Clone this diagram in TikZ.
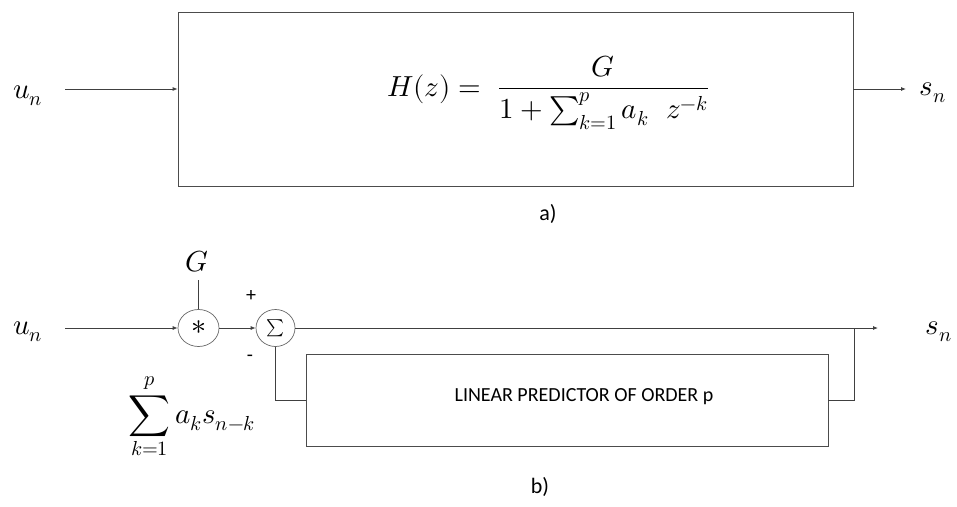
\documentclass[tikz,border=0pt]{standalone}
\usepackage{amsmath}
\usepackage{fontspec}
\usepackage{unicode-math}
\setmathfont{Latin Modern Math}
\setsansfont{Carlito}
\usetikzlibrary{arrows.meta,shapes.geometric,positioning}

\tikzset{
  wire/.style={draw=black!75, line width=0.8pt},
  sig/.style={wire, -{Latex[length=5pt,width=4pt]}},
  blockbox/.style={draw=black!70, line width=0.8pt, rectangle, inner sep=0pt},
  opnode/.style={draw=black!60, line width=0.7pt, ellipse, inner sep=0pt,
                 minimum width=41pt, minimum height=37pt},
  mathlbl/.style={font=\fontsize{29}{34}\selectfont, inner sep=0pt},
  caplbl/.style={font=\sffamily\fontsize{22}{26}\selectfont, inner sep=0pt},
  signlbl/.style={font=\sffamily\fontsize{20}{22}\selectfont, inner sep=0pt},
}

\begin{document}
\begin{tikzpicture}[x=1pt,y=-1pt]
  \useasboundingbox (0,0) rectangle (957,506);

  % 1. a) the all-pole filter block
  \node[blockbox, minimum width=675pt, minimum height=174pt] (filt) at (515.5,99) {};
  \node[mathlbl] (hz) at (548,93) {$H(z) =\ \dfrac{G}{1+\sum_{k=1}^{p} a_k\ \ z^{-k}}$};
  \node[mathlbl] (una) at (28,96) {$u_n$};
  \node[mathlbl] (sna) at (933,93) {$s_n$};
  \coordinate (ina) at (65,89);
  \coordinate (outa) at (906,89);
  \draw[sig] (ina) -- (ina -| filt.west);
  \draw[sig] (outa -| filt.east) -- (outa);
  \node[caplbl] (capa) at (548,214) {a)};

  % 2. b) gain, summing point and predictor loop
  \node[mathlbl] (unb) at (28,332) {$u_n$};
  \coordinate (inb) at (65,328);
  \node[opnode] (mult) at (198.5,328) {\fontsize{30}{34}\selectfont$\ast$};
  \node[opnode, minimum width=39pt] (summ) at (275.5,328) {\fontsize{17}{20}\selectfont$\textstyle\sum$};
  \node[mathlbl] (gain) at (197,262) {$G$};
  \coordinate (gtop) at (198.5,280);
  \node[signlbl] (plus) at (251,296) {+};
  \node[signlbl] (minus) at (250,358) {-};

  \node[blockbox, minimum width=522pt, minimum height=92pt] (pred) at (567,400) {};
  \node[font=\sffamily\fontsize{20}{24}\selectfont] (predtxt) at (584,397)
       {LINEAR PREDICTOR OF ORDER p};

  \coordinate (outb) at (878,328);
  \coordinate (tap) at (854,328);
  \node[mathlbl] (snb) at (939,332) {$s_n$};

  \draw[sig] (inb) -- (mult);
  \draw[wire] (gtop) -- (mult);
  \draw[sig] (mult) -- (summ);
  \draw[sig] (summ) -- (outb);
  % feedback through the predictor
  \draw[wire] (tap) |- (pred.east);
  \draw[wire] (summ.south) |- (pred.west);

  \node[mathlbl] (sumlbl) at (192,416) {$\displaystyle\sum_{k=1}^{p} a_k s_{n-k}$};
  \node[caplbl] (capb) at (540,487) {b)};
\end{tikzpicture}
\end{document}
